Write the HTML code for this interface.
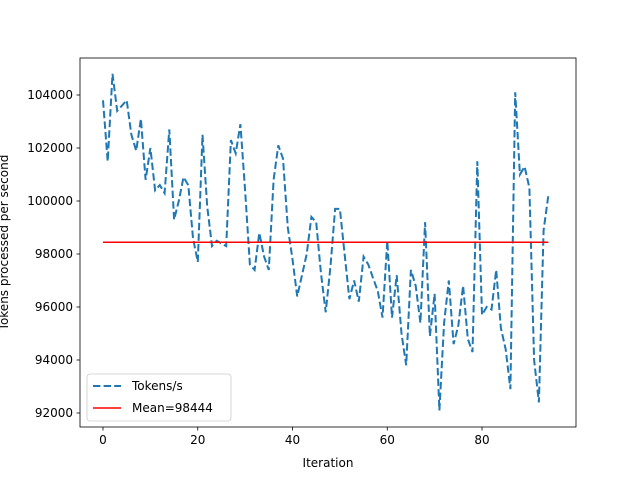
<!DOCTYPE html>
<html><head><meta charset="utf-8"><style>
body{margin:0;background:#fff;font-family:"Liberation Sans","DejaVu Sans",sans-serif;}
svg text{font-family:"DejaVu Sans","Liberation Sans",sans-serif;font-size:12px;fill:#000;}
</style></head><body>
<svg id="chart" width="640" height="480" xmlns="http://www.w3.org/2000/svg">
<rect width="640" height="480" fill="#fff"/>
<g id="plot"></g>
</svg>
<script>
const values=[103800,101500,104800,103400,103600,103800,102500,101900,103100,100800,102000,100400,100600,100300,102700,99300,100000,100900,100600,98600,97700,102500,99800,98300,98500,98400,98300,102300,101800,102900,100400,97600,97400,98800,97900,97400,100800,102100,101600,99000,97800,96400,97200,98000,99400,99200,97300,95800,97500,99700,99700,98000,96300,97000,96200,97900,97600,97100,96600,95600,98500,95600,97200,95000,93800,97400,96800,95400,99200,94900,96500,92100,95400,97000,94600,95300,96800,94800,94300,101500,95700,96000,95900,97400,95200,94400,92900,104100,101000,101300,100500,94000,92400,98900,100200];
const meanValue=98444;
const xTicks=[0,20,40,60,80];
const yTicks=[92000,94000,96000,98000,100000,102000,104000];
const L=80,R=576,T=58,B=427;
const xs=v=>103+(v)*(482-103)/80;
const ys=v=>95+(104000-v)*(413-95)/12000;
const NS="http://www.w3.org/2000/svg";
const g=document.getElementById('plot');
function mk(t,a){const e=document.createElementNS(NS,t);for(const k in a)e.setAttribute(k,a[k]);g.appendChild(e);return e;}
// series
let d=values.map((v,i)=>(i?'L':'M')+xs(i).toFixed(1)+','+ys(v).toFixed(1)).join(' ');
const line=mk('path',{d:d,fill:'none',stroke:'#1f77b4','stroke-width':2,'stroke-dasharray':'7.4,3.2'});


const ml=mk('line',{x1:xs(0),x2:xs(values.length-1),y1:ys(meanValue),y2:ys(meanValue),stroke:'#ff0000','stroke-width':1.5});


// frame
const fr=mk('rect',{x:L,y:T,width:R-L,height:B-T,fill:'none',stroke:'#000','stroke-width':0.8});


xTicks.forEach(t=>{const x=xs(t);
 mk('line',{x1:x,x2:x,y1:B,y2:B+3.5,stroke:'#000','stroke-width':0.8});
 const tx=mk('text',{x:x,y:B+17,'text-anchor':'middle'});tx.textContent=t;
 
 });
yTicks.forEach(t=>{const y=ys(t);
 mk('line',{x1:L-3.5,x2:L,y1:y,y2:y,stroke:'#000','stroke-width':0.8});
 const tx=mk('text',{x:L-7,y:y+4,'text-anchor':'end'});tx.textContent=t;
 
 });
const xt=mk('text',{x:(L+R)/2,y:467,'text-anchor':'middle'});xt.textContent='Iteration';


const yt=mk('text',{x:0,y:0,'text-anchor':'middle',transform:'translate(8,'+((T+B)/2)+') rotate(-90)'});yt.textContent='Tokens processed per second';


// legend
const lg=mk('rect',{x:87,y:374,width:144,height:47,rx:3,fill:'#fff','fill-opacity':0.8,stroke:'#ccc','stroke-width':0.8});


mk('line',{x1:93,x2:121,y1:386,y2:386,stroke:'#1f77b4','stroke-width':2,'stroke-dasharray':'7.4,3.2'});
const l1=mk('text',{x:132,y:390});l1.textContent='Tokens/s';


mk('line',{x1:93,x2:121,y1:408,y2:408,stroke:'#ff0000','stroke-width':1.5});
const l2=mk('text',{x:132,y:412});l2.textContent='Mean='+meanValue;


</script>
</body></html>
